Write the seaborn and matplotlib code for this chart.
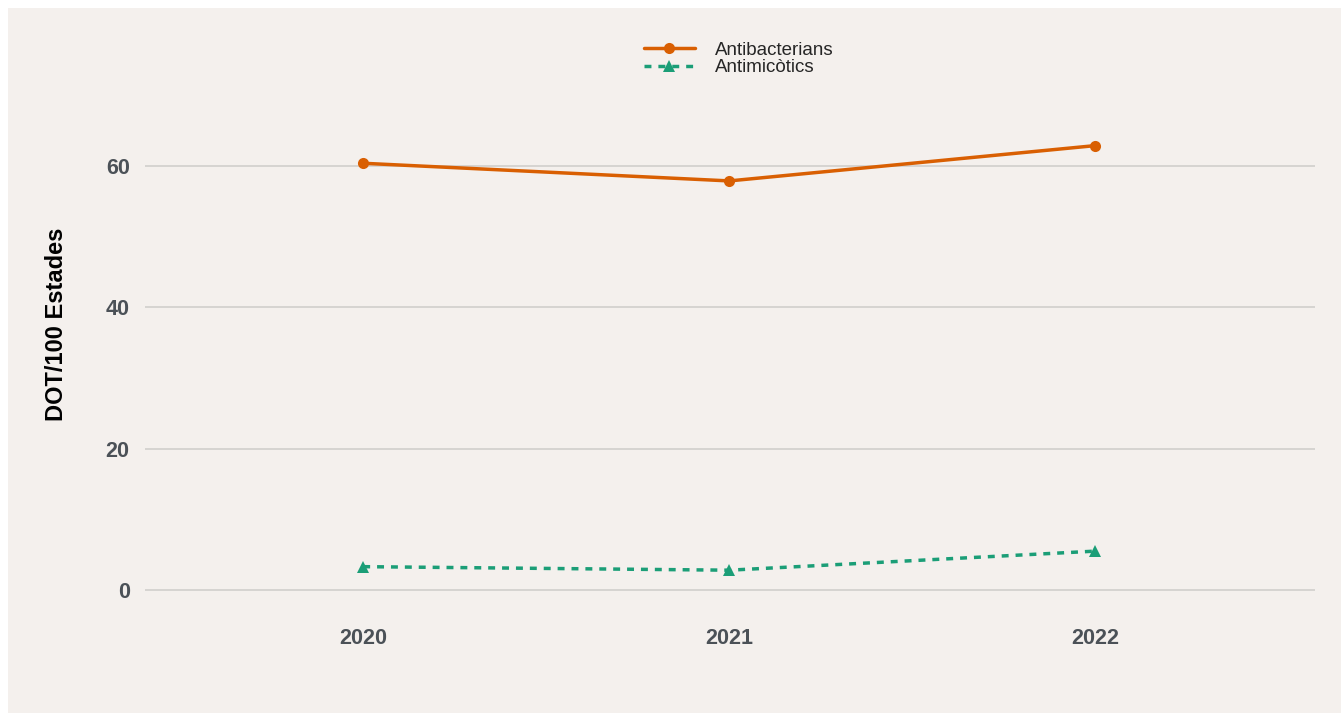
import pandas as pd
import matplotlib.pyplot as plt
import matplotlib.patches as mpatches
import seaborn as sns

# dades
anys = [2020, 2021, 2022]
antibacterians = [60.4, 57.9, 62.9]
antimicotics = [3.3, 2.8, 5.5]

df = pd.DataFrame({
    'any': anys * 2,
    'valor': antibacterians + antimicotics,
    'grup': ['Antibacterians'] * 3 + ['Antimicòtics'] * 3,
})

sns.set_style('white')
plt.rcParams['font.family'] = ['Liberation Sans', 'DejaVu Sans']

bg = '#f4f0ed'
fig = plt.figure(figsize=(13.41, 7.13), dpi=100, facecolor=bg)
# marge blanc a dalt i a l'esquerra
fig.patches.append(mpatches.Rectangle((0, 1 - 8 / 713), 1, 8 / 713, transform=fig.transFigure,
                                      facecolor='white', edgecolor='none'))
fig.patches.append(mpatches.Rectangle((0, 0), 8 / 1341, 1, transform=fig.transFigure,
                                      facecolor='white', edgecolor='none'))
ax = fig.add_axes([145 / 1341, 1 - 620 / 713, (1315 - 145) / 1341, (620 - 90) / 713])
ax.set_facecolor(bg)

sns.lineplot(data=df, x='any', y='valor', hue='grup', style='grup',
             palette={'Antibacterians': '#d95f02', 'Antimicòtics': '#1b9e77'},
             markers={'Antibacterians': 'o', 'Antimicòtics': '^'},
             dashes={'Antibacterians': '', 'Antimicòtics': (2, 2)},
             linewidth=2.5, markersize=8, markeredgewidth=0, ax=ax)

ax.set_xlim(2019.404, 2022.6)
ax.set_ylim(-4.25, 70.77)
ax.set_xticks(anys)
ax.set_yticks([0, 20, 40, 60])
ax.yaxis.grid(True, color='#d3d1cf', linewidth=1.3)
ax.xaxis.grid(False)
for s in ax.spines.values():
    s.set_visible(False)
ax.tick_params(axis='both', length=0, labelsize=15.5, labelcolor='#4b5157')
ax.tick_params(axis='x', pad=6)
ax.tick_params(axis='y', pad=11)
for lab in ax.get_xticklabels() + ax.get_yticklabels():
    lab.set_fontweight('bold')
ax.set_xlabel('')
ax.set_ylabel('DOT/100 Estades', fontsize=17, fontweight='bold', color='black')
ax.yaxis.set_label_coords((68 - 145) / 1170, (620 - 324) / 530)

leg = ax.legend(loc='center', bbox_to_anchor=(739 / 1341, 1 - 59 / 713),
                bbox_transform=fig.transFigure, frameon=False, fontsize=13.5,
                labelspacing=0.0, handlelength=2.7, handletextpad=1.1)
leg.set_title(None)

fig.savefig('out.png', dpi=100, facecolor=fig.get_facecolor())
